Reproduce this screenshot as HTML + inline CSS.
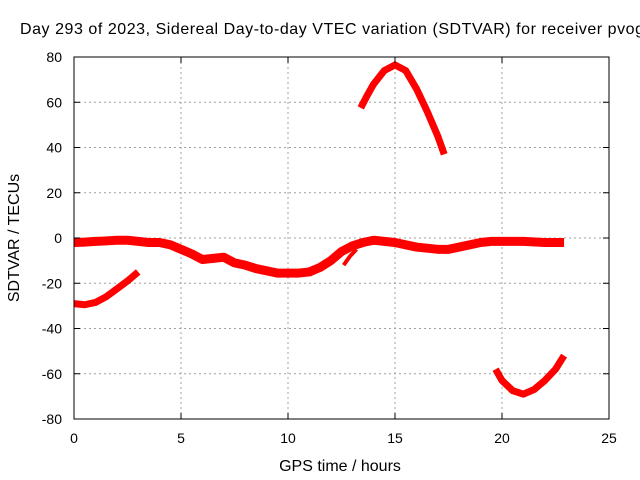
<!DOCTYPE html>
<html><head><meta charset="utf-8"><style>
body{margin:0;background:#fff;overflow:hidden;}
svg{display:block;font-family:"Liberation Sans",sans-serif;}
</style></head><body>
<svg id="chart" width="640" height="480" viewBox="0 0 640 480">
<g id="grid"></g>
<g id="series"></g>
<rect x="74" y="57" width="535" height="362" fill="none" stroke="#000" stroke-width="1"/>
<g id="ticks"></g>
<text x="20" y="34" text-anchor="start" font-size="16" textLength="624" lengthAdjust="spacing">Day 293 of 2023, Sidereal Day-to-day VTEC variation (SDTVAR) for receiver pvog</text>
<text x="340" y="471" text-anchor="middle" font-size="16">GPS time / hours</text>
<text transform="translate(19,238) rotate(-90)" text-anchor="middle" font-size="16">SDTVAR / TECUs</text>
</svg>
<script>
const xTicks=[0,5,10,15,20,25];
const yTicks=[-80,-60,-40,-20,0,20,40,60,80];
const mainX=[0,0.5,1,1.5,2,2.5,3,3.5,4,4.5,5,5.5,6,6.5,7,7.5,8,8.5,9,9.5,10,10.5,11,11.5,12,12.5,13,13.5,14,14.5,15,15.5,16,16.5,17,17.5,18,18.5,19,19.5,20,21,22,22.9];
const mainY=[-2,-1.8,-1.5,-1.3,-1,-1,-1.5,-2,-2,-3,-5,-7,-9.5,-9,-8.5,-11,-12,-13.5,-14.5,-15.5,-15.5,-15.5,-15,-13,-10,-6,-3.5,-2,-1,-1.5,-2,-3,-4,-4.5,-5,-5,-4,-3,-2,-1.5,-1.5,-1.5,-2,-2];
const branchX=[12.6,12.9,13.2];
const branchY=[-12,-8,-5];
const earlyX=[0,0.5,1,1.5,2,2.5,3];
const earlyY=[-29,-29.5,-28.5,-26,-22.5,-19,-15];
const peakX=[13.4,13.7,14,14.5,15,15.5,16,16.5,17,17.3];
const peakY=[57.5,63,68,74,76.5,74,66,56,45,37];
const troughX=[19.7,20,20.5,21,21.5,22,22.5,22.9];
const troughY=[-58,-63,-67.5,-69,-67,-63,-58,-52];
const NS="http://www.w3.org/2000/svg";
const xs=h=>74+h*535/25;
const ys=v=>238-v*362/160;
const grid=document.getElementById('grid'),ticks=document.getElementById('ticks'),ser=document.getElementById('series');
function mk(t,a,p){const e=document.createElementNS(NS,t);for(const k in a)e.setAttribute(k,a[k]);p.appendChild(e);return e;}
xTicks.forEach(t=>{
 const x=xs(t);
 if(t>0&&t<25){const l=mk('line',{x1:x,x2:x,y1:57,y2:419,stroke:'#a0a0a0','stroke-dasharray':'2,3'},grid);
 
 }
 mk('line',{x1:x,x2:x,y1:419,y2:413,stroke:'#000'},ticks);
 mk('line',{x1:x,x2:x,y1:57,y2:63,stroke:'#000'},ticks);
 const tx=mk('text',{x:x,y:443,'text-anchor':'middle','font-size':14},ticks);tx.textContent=t;
 
 
});
yTicks.forEach(t=>{
 const y=ys(t);
 if(t>-80&&t<80){const l=mk('line',{x1:74,x2:609,y1:y,y2:y,stroke:'#a0a0a0','stroke-dasharray':'2,3'},grid);
 
 }
 mk('line',{x1:74,x2:80,y1:y,y2:y,stroke:'#000'},ticks);
 mk('line',{x1:603,x2:609,y1:y,y2:y,stroke:'#000'},ticks);
 const tx=mk('text',{x:62,y:y+5,'text-anchor':'end','font-size':14},ticks);tx.textContent=t;
 
 
});
function line(X,Y,name,w){
 const p=mk('polyline',{points:X.map((x,i)=>xs(x)+','+ys(Y[i])).join(' '),fill:'none',stroke:'#ff0000','stroke-width':w,'stroke-linejoin':'round','stroke-linecap':'butt'},ser);
 
 
}
line(mainX,mainY,'series-main',9);
line(branchX,branchY,'series-branch',4);
line(earlyX,earlyY,'series-early',7);
line(peakX,peakY,'series-peak',7);
line(troughX,troughY,'series-trough',7);
</script>
</body></html>
